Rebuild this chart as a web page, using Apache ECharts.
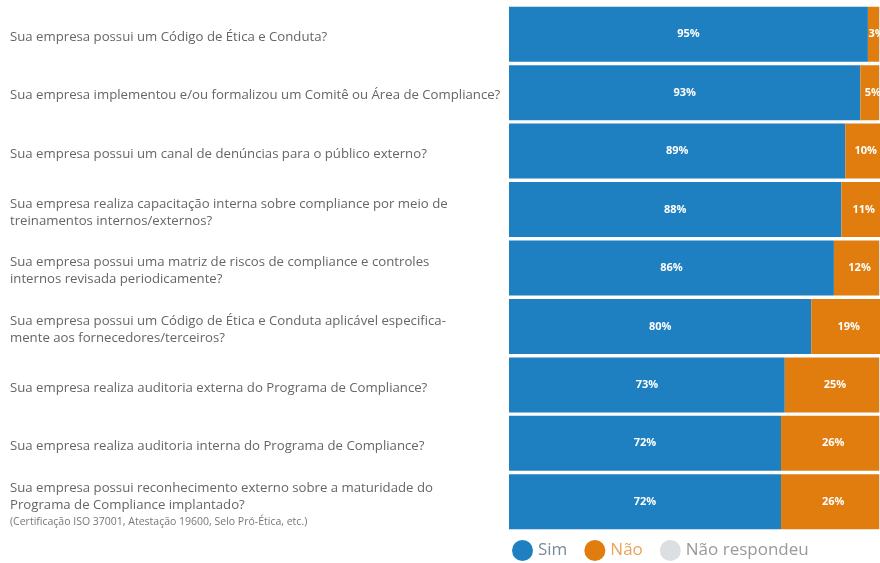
<!DOCTYPE html>
<html><head><meta charset="utf-8">
<script src="https://cdn.jsdelivr.net/npm/echarts@6/dist/echarts.min.js"></script>
<style>html,body{margin:0;padding:0;background:#fff}#c{width:880px;height:563px}</style>
</head><body><div id="c"></div>
<script>
const categories = [
  "Sua empresa possui um Código de Ética e Conduta?",
  "Sua empresa implementou e/ou formalizou um Comitê ou Área de Compliance?",
  "Sua empresa possui um canal de denúncias para o público externo?",
  "Sua empresa realiza capacitação interna sobre compliance por meio de\ntreinamentos internos/externos?",
  "Sua empresa possui uma matriz de riscos de compliance e controles\ninternos revisada periodicamente?",
  "Sua empresa possui um Código de Ética e Conduta aplicável especifica-\nmente aos fornecedores/terceiros?",
  "Sua empresa realiza auditoria externa do Programa de Compliance?",
  "Sua empresa realiza auditoria interna do Programa de Compliance?",
  "Sua empresa possui reconhecimento externo sobre a maturidade do\nPrograma de Compliance implantado?\n{s|(Certificação ISO 37001, Atestação 19600, Selo Pró-Ética, etc.)}"
];
const sim = [95, 93, 89, 88, 86, 80, 73, 72, 72];
const nao = [3, 5, 10, 11, 12, 19, 25, 26, 26];
const naoRespondeu = [2, 2, 1, 1, 2, 1, 2, 2, 2];
const seriesNames = ["Sim", "Não", "Não respondeu"];

const chart = echarts.init(document.getElementById('c'));
const lbl = {show: true, position: 'inside', color: '#fff', fontWeight: 'bold', fontSize: 11,
  fontFamily: 'Open Sans', formatter: p => p.value + '%'};
chart.setOption({
  animation: false,
  grid: {left: 509, right: 0, top: 5, bottom: 32, containLabel: false},
  xAxis: {type: 'value', min: 0, max: 98.2, show: false},
  yAxis: {type: 'category', data: categories, inverse: true,
    axisLine: {show: false}, axisTick: {show: false},
    axisLabel: {align: 'left', margin: 499, color: '#666', fontSize: 13.2, fontFamily: 'Open Sans',
      lineHeight: 17, padding: [6, 0, 0, 0],
      rich: {s: {fontSize: 10.5, color: '#777', fontFamily: 'Open Sans', lineHeight: 16}}}},
  legend: {top: 535, left: 507, itemWidth: 21, itemHeight: 21, itemGap: 17, icon: 'circle',
    textStyle: {fontSize: 17, fontFamily: 'Open Sans', color: '#888'},
    data: [{name: 'Sim', textStyle: {color: '#7a8a99'}}, {name: 'Não', textStyle: {color: '#e9a45a'}}, {name: 'Não respondeu', textStyle: {color: '#999'}}]},
  series: [
    {name: seriesNames[0], type: 'bar', stack: 't', data: sim, barWidth: 55, itemStyle: {color: '#1f80c1'}, label: lbl},
    {name: seriesNames[1], type: 'bar', stack: 't', data: nao, itemStyle: {color: '#e17d0e'}, label: Object.assign({}, lbl, {offset: [3, 0]})},
    {name: seriesNames[2], type: 'bar', stack: 't', data: naoRespondeu, itemStyle: {color: '#dcdfe2'}, label: {show: false}}
  ]
});
</script></body></html>
